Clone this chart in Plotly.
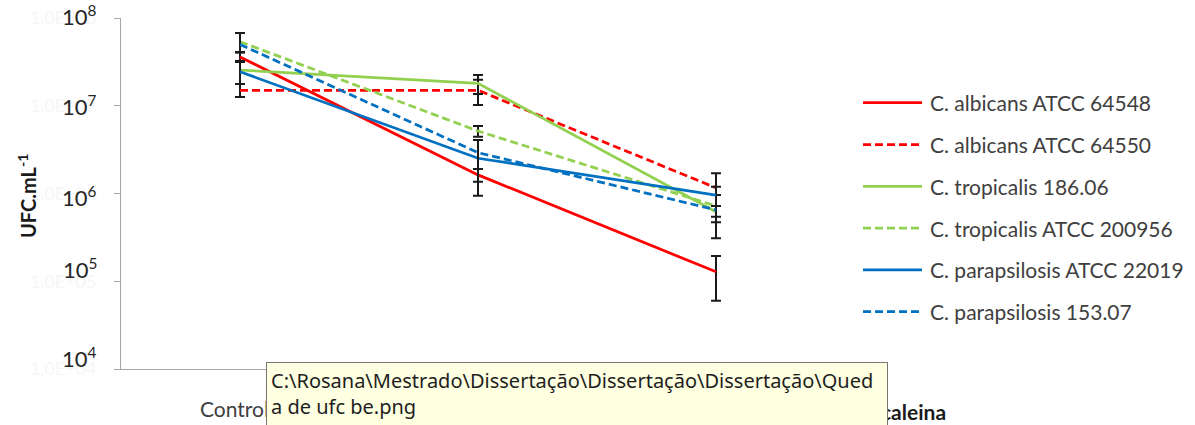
import math
import plotly.graph_objects as go

# ---------------- data ----------------
categories = ["Controle", "Tratamento 1", "Tratamento 2"]

series_names = [
    "C. albicans ATCC 64548",
    "C. albicans ATCC 64550",
    "C. tropicalis 186.06",
    "C. tropicalis ATCC 200956",
    "C. parapsilosis ATCC 22019",
    "C. parapsilosis 153.07",
]

albicans_64548 = [3.6e7, 1.63e6, 1.28e5]
albicans_64550 = [1.5e7, 1.5e7, 1.16e6]
tropicalis_18606 = [2.55e7, 1.8e7, 6.2e5]
tropicalis_200956 = [5.37e7, 5.15e6, 7.2e5]
parapsilosis_22019 = [2.44e7, 2.52e6, 9.6e5]
parapsilosis_15307 = [5.0e7, 2.92e6, 6.5e5]

# error bars (upper / lower)
err_up_64548 = [0.45e7, 0.27e6, 0.66e5]
err_dn_64548 = [0.45e7, 0.27e6, 0.68e5]
err_up_64550 = [0.27e7, 0.48e7, 0.54e6]
err_dn_64550 = [0.24e7, 0.48e7, 0.44e6]
err_up_18606 = [0.69e7, 0.44e7, 3.4e5]
err_dn_18606 = [0.78e7, 0.44e7, 3.1e5]
err_up_200956 = [1.37e7, 0.72e6, 2.4e5]
err_dn_200956 = [1.3e7, 0.72e6, 2.5e5]
err_up_22019 = [0.8e7, 1.55e6, 2.3e5]
err_dn_22019 = [0.67e7, 1.58e6, 2.4e5]
err_up_15307 = [1.74e7, 1.15e6, 0.7e5]
err_dn_15307 = [0.9e7, 1.02e6, 1.05e5]

y_tick_values = [1e4, 1e5, 1e6, 1e7, 1e8]
y_tick_text_faint = ["1,0E+04", "1,0E+05", "1,0E+06", "1,0E+07", "1,0E+08"]
y_tick_text = ["10<sup>4</sup>", "10<sup>5</sup>", "10<sup>6</sup>",
               "10<sup>7</sup>", "10<sup>8</sup>"]

# ---------------- styles ----------------
RED = "#ff0000"
GREEN = "#92d050"
BLUE = "#0070c0"
DASH = "8px,4px"

series_values = [albicans_64548, albicans_64550, tropicalis_18606,
                 tropicalis_200956, parapsilosis_22019, parapsilosis_15307]
series_err_up = [err_up_64548, err_up_64550, err_up_18606,
                 err_up_200956, err_up_22019, err_up_15307]
series_err_dn = [err_dn_64548, err_dn_64550, err_dn_18606,
                 err_dn_200956, err_dn_22019, err_dn_15307]
series_colors = [RED, RED, GREEN, GREEN, BLUE, BLUE]
series_dash = ["solid", DASH, "solid", DASH, "solid", DASH]

W, H = 1195, 425
PLOT_L, PLOT_R, PLOT_T, PLOT_B = 121, 835, 18, 369
PW, PH = PLOT_R - PLOT_L, PLOT_B - PLOT_T


def px_x(x):
    return (x - PLOT_L) / PW


def px_y(y):
    return (PLOT_B - y) / PH


FONT = "Lato, Carlito, Calibri, sans-serif"

fig = go.Figure()

for name, vals, up, dn, col, dash in zip(series_names, series_values,
                                         series_err_up, series_err_dn,
                                         series_colors, series_dash):
    fig.add_trace(go.Scatter(
        x=categories, y=vals, name=name, mode="lines",
        line=dict(color=col, width=2.75, dash=dash),
        error_y=dict(type="data", array=up, arrayminus=dn, visible=True,
                     color="#1a1a1a", thickness=2, width=5),
        showlegend=False,
    ))

annotations = []
shapes = []

# legend drawn beside the plot
LEG_Y0, LEG_STEP = 102.7, 41.8
for i, (name, col, dash) in enumerate(zip(series_names, series_colors, series_dash)):
    yy = LEG_Y0 + i * LEG_STEP
    shapes.append(dict(type="line", xref="paper", yref="paper",
                       x0=px_x(863), x1=px_x(922), y0=px_y(yy), y1=px_y(yy),
                       line=dict(color=col, width=2.75, dash=dash)))
    annotations.append(dict(text=name, xref="paper", yref="paper",
                            x=px_x(928), y=px_y(yy), xanchor="left", yanchor="middle",
                            showarrow=False, font=dict(family=FONT, size=21, color="#404040")))

# power-of-ten labels on the value axis
label_shift = [11.5, 13, -3, 0, 2.5]
for v, t, s in zip(y_tick_values, y_tick_text, label_shift):
    annotations.append(dict(text=t, xref="paper", yref="y", x=px_x(99), y=math.log10(v),
                            yshift=s, xanchor="right", yanchor="middle", showarrow=False,
                            font=dict(family=FONT, size=22, color="#262626")))

# axis titles
annotations.append(dict(text="<b>UFC.mL<sup>-1</sup></b>", xref="paper", yref="paper",
                        x=px_x(27), y=px_y(196), textangle=-90, showarrow=False,
                        xanchor="center", yanchor="middle",
                        font=dict(family=FONT, size=20, color="#1a1a1a")))
annotations.append(dict(text="<b>caleina</b>", xref="paper", yref="paper",
                        x=px_x(879), y=px_y(411), xanchor="left", yanchor="middle",
                        showarrow=False, font=dict(family=FONT, size=21, color="#1a1a1a")))

# file-path tooltip box overlaying the lower axis
annotations.append(dict(
    text="C:\\Rosana\\Mestrado\\Dissertação\\Dissertação\\Dissertação\\Qued<br>a de ufc be.png",
    xref="paper", yref="paper", x=px_x(266), y=px_y(362), xanchor="left", yanchor="top",
    align="left", valign="top", width=612, height=80, showarrow=False,
    bgcolor="#ffffe1", bordercolor="#767676", borderwidth=1, borderpad=4,
    font=dict(family="Noto Sans, Open Sans, sans-serif", size=20, color="#1e1e1e")))

fig.update_layout(
    width=W, height=H, autosize=False,
    margin=dict(l=PLOT_L, r=W - PLOT_R, t=PLOT_T, b=H - PLOT_B, pad=0, autoexpand=False),
    paper_bgcolor="white", plot_bgcolor="white",
    showlegend=False,
    annotations=annotations, shapes=shapes,
    xaxis=dict(type="category", range=[-0.5, 2.5], showgrid=False, zeroline=False,
               automargin=False,
               showline=True, linecolor="#a6a6a6", linewidth=1,
               ticks="", tickfont=dict(family=FONT, size=21, color="#404040"),
               ticklabelstandoff=22),
    yaxis=dict(type="log", range=[4, 8], showgrid=False, zeroline=False,
               automargin=False,
               showline=True, linecolor="#a6a6a6", linewidth=1,
               ticks="outside", ticklen=6, tickcolor="#a6a6a6",
               tickvals=y_tick_values, ticktext=y_tick_text_faint,
               tickfont=dict(family=FONT, size=18, color="#f6f6f6"),
               ticklabelstandoff=14),
)

fig.write_html("out.html")
